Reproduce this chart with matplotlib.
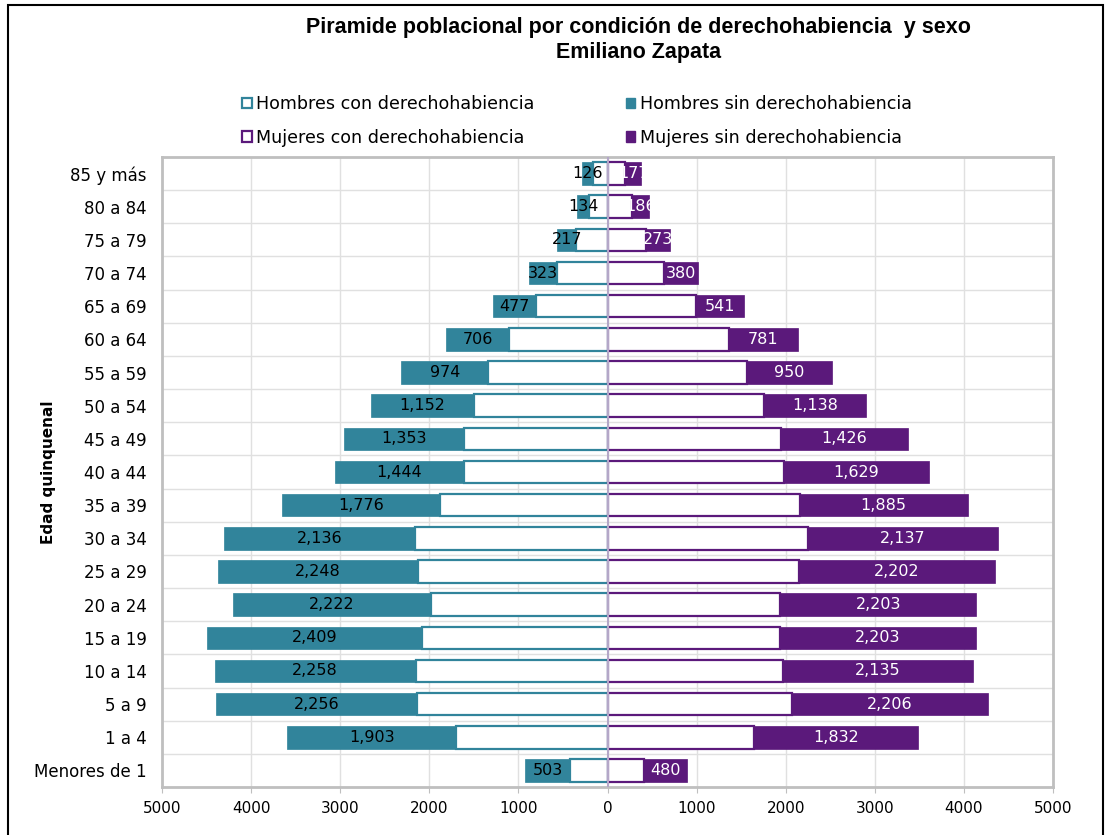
import matplotlib.pyplot as plt
from matplotlib.patches import Rectangle
from matplotlib.ticker import FuncFormatter, MultipleLocator
import numpy as np

edades = ["Menores de 1", "1 a 4", "5 a 9", "10 a 14", "15 a 19", "20 a 24",
          "25 a 29", "30 a 34", "35 a 39", "40 a 44", "45 a 49", "50 a 54",
          "55 a 59", "60 a 64", "65 a 69", "70 a 74", "75 a 79", "80 a 84",
          "85 y más"]

hombres_con = [422, 1695, 2134, 2152, 2082, 1983, 2123, 2165, 1875, 1615,
               1605, 1500, 1340, 1105, 806, 563, 350, 208, 160]
hombres_sin = [503, 1903, 2256, 2258, 2409, 2222, 2248, 2136, 1776, 1444,
               1353, 1152, 974, 706, 477, 323, 217, 134, 126]
mujeres_con = [415, 1648, 2066, 1966, 1932, 1938, 2144, 2250, 2157, 1977,
               1944, 1762, 1566, 1360, 988, 632, 428, 280, 200]
mujeres_sin = [480, 1832, 2206, 2135, 2203, 2203, 2202, 2137, 1885, 1629,
               1426, 1138, 950, 781, 541, 380, 273, 186, 177]

teal = '#31849B'
purple = '#5B197B'
fuente = 'DejaVu Sans'

fig = plt.figure(figsize=(11.1, 8.35), dpi=100)
ax = fig.add_axes([162 / 1110, 1 - 787 / 835, (1053 - 162) / 1110, (787 - 157) / 835])

y = np.arange(len(edades))
h_con = -np.array(hombres_con)
h_sin = -np.array(hombres_sin)
m_con = np.array(mujeres_con)
m_sin = np.array(mujeres_sin)
alto = 0.68

ax.barh(y, h_con, height=alto, color='white', edgecolor=teal, linewidth=1.6, zorder=3)
ax.barh(y, h_sin, left=h_con, height=alto, color=teal, edgecolor=teal, linewidth=0.5, zorder=3)
ax.barh(y, m_con, height=alto, color='white', edgecolor=purple, linewidth=1.6, zorder=3)
ax.barh(y, m_sin, left=m_con, height=alto, color=purple, edgecolor=purple, linewidth=0.5, zorder=3)

# etiquetas de datos centradas en el segmento "sin"
for i in range(len(edades)):
    xh = h_con[i] + h_sin[i] / 2
    ax.text(xh, y[i], f"{hombres_sin[i]:,}", ha='center', va='center',
            fontsize=11.5, color='black', family=fuente, zorder=5)
    xm = m_con[i] + m_sin[i] / 2
    ax.text(xm, y[i], f"{mujeres_sin[i]:,}", ha='center', va='center',
            fontsize=11.5, color='white', family=fuente, zorder=5)

ax.axvline(0, color='#B4A7C8', linewidth=1.5, zorder=4)

ax.set_xlim(-5000, 5000)
ax.set_ylim(-0.5, len(edades) - 0.5)
ax.xaxis.set_major_locator(MultipleLocator(1000))
ax.xaxis.set_major_formatter(FuncFormatter(lambda v, p: f"{abs(int(v))}"))
ax.set_yticks(y)
ax.set_yticklabels(edades)
ax.set_yticks(np.arange(-0.5, len(edades), 1), minor=True)
ax.tick_params(axis='y', which='both', length=0, pad=11, labelsize=12)
ax.tick_params(axis='x', length=4, color='#BFBFBF', pad=6, labelsize=11)
for lab in ax.get_xticklabels() + ax.get_yticklabels():
    lab.set_family(fuente)

ax.grid(axis='x', which='major', color='#E0E0E0', linewidth=1, zorder=0)
ax.grid(axis='y', which='minor', color='#E0E0E0', linewidth=1, zorder=0)
ax.set_axisbelow(True)
for s in ax.spines.values():
    s.set_color('#BFBFBF')
    s.set_linewidth(2)

ax.set_ylabel('Edad quinquenal', fontsize=11, fontweight='bold', family=fuente)
ax.yaxis.set_label_coords((56 - 162) / 891, 0.5)

fig.text(0.575, 0.967, "Piramide poblacional por condición de derechohabiencia  y sexo",
         ha='center', va='center', fontsize=15.5, fontweight='bold', family='Liberation Sans')
fig.text(0.575, 0.937, "Emiliano Zapata", ha='center', va='center', fontsize=15.5,
         fontweight='bold', family='Liberation Sans')

handles = [Rectangle((0, 0), 1, 1, facecolor='white', edgecolor=teal, linewidth=1.6),
           Rectangle((0, 0), 1, 1, facecolor='white', edgecolor=purple, linewidth=1.6),
           Rectangle((0, 0), 1, 1, facecolor=teal, edgecolor=teal),
           Rectangle((0, 0), 1, 1, facecolor=purple, edgecolor=purple)]
etiquetas = ['Hombres con derechohabiencia', 'Mujeres con derechohabiencia',
             'Hombres sin derechohabiencia', 'Mujeres sin derechohabiencia']
fig.legend(handles, etiquetas, loc='center', bbox_to_anchor=(577 / 1110, 1 - 121 / 835),
           ncol=2, frameon=False, handlelength=0.55, handleheight=0.55, handletextpad=0.25,
           columnspacing=5.2, labelspacing=0.9, prop={'family': fuente, 'size': 12.6})

# borde negro de la figura
fig.patches.append(Rectangle((8 / 1110, -0.05), 1095 / 1110, 1.05 - 5 / 835, fill=False,
                             edgecolor='black', linewidth=1.5, transform=fig.transFigure))

fig.savefig('out.png', dpi=100)
